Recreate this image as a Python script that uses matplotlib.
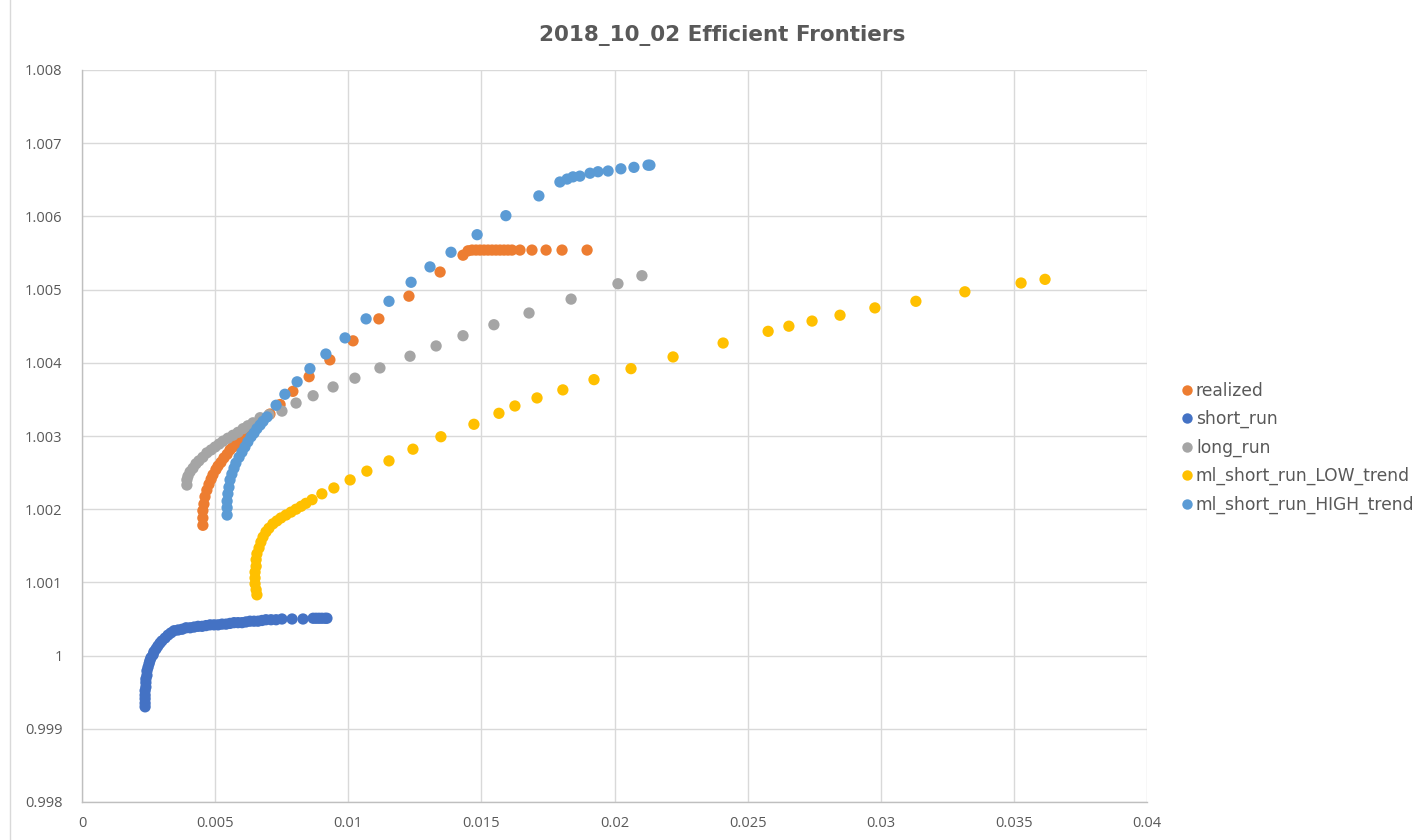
import matplotlib
matplotlib.use("Agg")
import matplotlib.pyplot as plt
from matplotlib.lines import Line2D

plt.rcParams['font.family'] = ['Open Sans', 'DejaVu Sans']

title = "2018_10_02 Efficient Frontiers"

realized_x = [0.00454, 0.00454, 0.00454, 0.00458, 0.00462, 0.00469, 0.00477, 0.00485, 0.00492, 0.00503,
              0.00511, 0.00522, 0.00533, 0.00545, 0.00556, 0.00567, 0.00582, 0.00597, 0.00612, 0.00627,
              0.00642, 0.00661, 0.00676, 0.00706, 0.00744, 0.00792, 0.00853, 0.00931, 0.01018, 0.01115,
              0.01228, 0.01345, 0.01431, 0.01450, 0.01465, 0.01480, 0.01495, 0.01510, 0.01525, 0.01540,
              0.01555, 0.01570, 0.01585, 0.01600, 0.01615, 0.01645, 0.01690, 0.01743, 0.01803, 0.01897]
realized_y = [1.00178, 1.00188, 1.00198, 1.00207, 1.00217, 1.00226, 1.00234, 1.00241, 1.00247, 1.00254,
              1.00259, 1.00264, 1.00270, 1.00275, 1.00281, 1.00285, 1.00290, 1.00296, 1.00301, 1.00307,
              1.00312, 1.00318, 1.00322, 1.00330, 1.00343, 1.00361, 1.00381, 1.00404, 1.00430, 1.00460,
              1.00491, 1.00524, 1.00547, 1.00553, 1.00554, 1.00554, 1.00554, 1.00554, 1.00554, 1.00554,
              1.00554, 1.00554, 1.00554, 1.00554, 1.00554, 1.00554, 1.00554, 1.00554, 1.00554, 1.00554]

short_x = [0.00237, 0.00237, 0.00237, 0.00237, 0.00237, 0.00240, 0.00240, 0.00240, 0.00244, 0.00244,
           0.00248, 0.00252, 0.00255, 0.00259, 0.00267, 0.00270, 0.00278, 0.00285, 0.00293, 0.00300,
           0.00312, 0.00323, 0.00334, 0.00346, 0.00361, 0.00376, 0.00391, 0.00406, 0.00421, 0.00436,
           0.00451, 0.00466, 0.00481, 0.00496, 0.00511, 0.00526, 0.00541, 0.00556, 0.00571, 0.00586,
           0.00601, 0.00616, 0.00631, 0.00646, 0.00661, 0.00676, 0.00691, 0.00710, 0.00729, 0.00751,
           0.00789, 0.00830, 0.00868, 0.00879, 0.00890, 0.00901, 0.00913, 0.00920]
short_y = [0.99930, 0.99935, 0.99941, 0.99946, 0.99952, 0.99957, 0.99963, 0.99968, 0.99973, 0.99979,
           0.99984, 0.99989, 0.99993, 0.99997, 1.00001, 1.00005, 1.00009, 1.00013, 1.00017, 1.00020,
           1.00024, 1.00028, 1.00031, 1.00034, 1.00035, 1.00036, 1.00038, 1.00038, 1.00039, 1.00040,
           1.00040, 1.00041, 1.00042, 1.00042, 1.00042, 1.00043, 1.00043, 1.00044, 1.00045, 1.00045,
           1.00045, 1.00046, 1.00047, 1.00047, 1.00047, 1.00048, 1.00049, 1.00049, 1.00049, 1.00050,
           1.00050, 1.00050, 1.00051, 1.00051, 1.00051, 1.00051, 1.00051, 1.00051]

long_x = [0.00394, 0.00394, 0.00398, 0.00406, 0.00417, 0.00428, 0.00439, 0.00454, 0.00469, 0.00485,
          0.00500, 0.00515, 0.00530, 0.00548, 0.00567, 0.00586, 0.00605, 0.00623, 0.00642, 0.00669,
          0.00702, 0.00751, 0.00804, 0.00868, 0.00943, 0.01025, 0.01119, 0.01232, 0.01330, 0.01431,
          0.01547, 0.01679, 0.01837, 0.02013, 0.02103]
long_y = [1.00233, 1.00240, 1.00245, 1.00251, 1.00256, 1.00262, 1.00266, 1.00271, 1.00277, 1.00281,
          1.00285, 1.00289, 1.00293, 1.00297, 1.00301, 1.00305, 1.00310, 1.00314, 1.00318, 1.00325,
          1.00329, 1.00334, 1.00345, 1.00355, 1.00367, 1.00379, 1.00393, 1.00409, 1.00423, 1.00437,
          1.00452, 1.00468, 1.00487, 1.00508, 1.00519]

low_x = [0.00657, 0.00654, 0.00650, 0.00650, 0.00650, 0.00654, 0.00654, 0.00657, 0.00665, 0.00672,
         0.00680, 0.00691, 0.00702, 0.00717, 0.00732, 0.00747, 0.00766, 0.00785, 0.00804, 0.00823,
         0.00841, 0.00864, 0.00901, 0.00946, 0.01007, 0.01070, 0.01153, 0.01243, 0.01348, 0.01472,
         0.01566, 0.01626, 0.01709, 0.01806, 0.01923, 0.02062, 0.02220, 0.02408, 0.02577, 0.02655,
         0.02742, 0.02847, 0.02978, 0.03132, 0.03316, 0.03527, 0.03617]
low_y = [1.00083, 1.00090, 1.00098, 1.00106, 1.00114, 1.00122, 1.00131, 1.00139, 1.00147, 1.00155,
         1.00162, 1.00169, 1.00174, 1.00180, 1.00184, 1.00188, 1.00192, 1.00196, 1.00200, 1.00204,
         1.00208, 1.00213, 1.00221, 1.00229, 1.00240, 1.00252, 1.00266, 1.00282, 1.00299, 1.00316,
         1.00331, 1.00341, 1.00352, 1.00363, 1.00377, 1.00392, 1.00408, 1.00427, 1.00443, 1.00450,
         1.00457, 1.00465, 1.00475, 1.00484, 1.00497, 1.00509, 1.00514]

high_x = [0.00545, 0.00545, 0.00545, 0.00548, 0.00552, 0.00556, 0.00563, 0.00571, 0.00578, 0.00590,
          0.00601, 0.00612, 0.00623, 0.00635, 0.00646, 0.00657, 0.00669, 0.00680, 0.00695, 0.00729,
          0.00762, 0.00808, 0.00856, 0.00916, 0.00988, 0.01067, 0.01153, 0.01236, 0.01307, 0.01386,
          0.01484, 0.01592, 0.01716, 0.01795, 0.01822, 0.01844, 0.01870, 0.01908, 0.01938, 0.01976,
          0.02024, 0.02073, 0.02126, 0.02133]
high_y = [1.00192, 1.00202, 1.00211, 1.00221, 1.00230, 1.00240, 1.00248, 1.00256, 1.00263, 1.00271,
          1.00278, 1.00285, 1.00292, 1.00299, 1.00304, 1.00310, 1.00315, 1.00320, 1.00326, 1.00342,
          1.00357, 1.00374, 1.00392, 1.00412, 1.00434, 1.00460, 1.00484, 1.00510, 1.00531, 1.00551,
          1.00575, 1.00601, 1.00628, 1.00647, 1.00651, 1.00654, 1.00655, 1.00659, 1.00661, 1.00662,
          1.00665, 1.00667, 1.00670, 1.00670]

series_names = ["realized", "short_run", "long_run", "ml_short_run_LOW_trend", "ml_short_run_HIGH_trend"]
series_colors = ["#ED7D31", "#4472C4", "#A5A5A5", "#FFC000", "#5B9BD5"]
series_data = [(realized_x, realized_y), (short_x, short_y), (long_x, long_y),
               (low_x, low_y), (high_x, high_y)]

x_ticks = [0, 0.005, 0.01, 0.015, 0.02, 0.025, 0.03, 0.035, 0.04]
x_labels = ["0", "0.005", "0.01", "0.015", "0.02", "0.025", "0.03", "0.035", "0.04"]
y_ticks = [0.998, 0.999, 1.0, 1.001, 1.002, 1.003, 1.004, 1.005, 1.006, 1.007, 1.008]
y_labels = ["0.998", "0.999", "1", "1.001", "1.002", "1.003", "1.004", "1.005", "1.006", "1.007", "1.008"]

fig = plt.figure(figsize=(14.2, 8.4), dpi=100)
ax = fig.add_axes([82 / 1420, 1 - 802 / 840, (1147 - 82) / 1420, (802 - 70) / 840])

for (xs, ys), name, col in zip(series_data, series_names, series_colors):
    ax.scatter(xs, ys, s=66, color=col, edgecolors='none', label=name, zorder=3)

ax.set_xlim(0, 0.04)
ax.set_ylim(0.998, 1.008)
ax.set_xticks(x_ticks)
ax.set_xticklabels(x_labels)
ax.set_yticks(y_ticks)
ax.set_yticklabels(y_labels)
ax.grid(True, color="#D9D9D9", linewidth=1.0, zorder=0)
ax.set_axisbelow(True)
for s in ["top", "right"]:
    ax.spines[s].set_visible(False)
for s in ["left", "bottom"]:
    ax.spines[s].set_color("#BFBFBF")
    ax.spines[s].set_linewidth(1.0)
ax.tick_params(axis='both', length=0, labelsize=10.5, colors="#595959")
ax.tick_params(axis='x', pad=10)
ax.tick_params(axis='y', pad=14)

fig.text(722 / 1420, 1 - 35 / 840, title, ha='center', va='center', fontsize=15.5,
         fontweight='bold', color="#595959", family=['DejaVu Sans'])

handles = [Line2D([0], [0], marker='o', linestyle='none', markersize=7.5,
                  markerfacecolor=c, markeredgecolor='none') for c in series_colors]
leg = fig.legend(handles, series_names, loc='upper left',
                 bbox_to_anchor=(1172 / 1420, 1 - 375 / 840), frameon=False,
                 prop={'family': ['DejaVu Sans'], 'size': 12.3},
                 handletextpad=0.0, labelspacing=0.6,
                 handlelength=1.0, borderaxespad=0)
for t in leg.get_texts():
    t.set_color("#595959")

fig.add_artist(Line2D([10 / 1420, 10 / 1420], [0, 1], transform=fig.transFigure,
                      color="#D9D9D9", linewidth=1.0))

fig.savefig("out.png", dpi=100)
